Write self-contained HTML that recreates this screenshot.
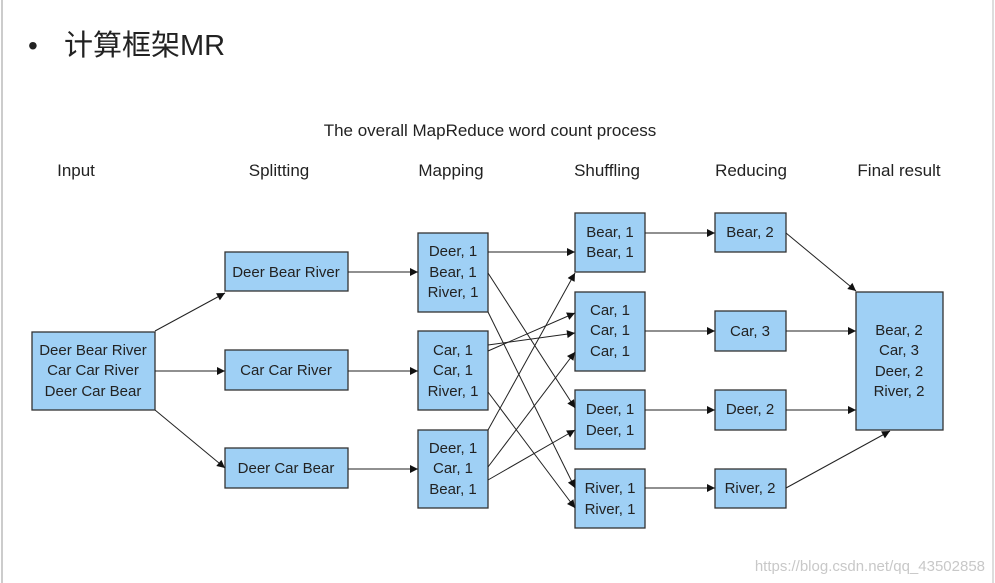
<!DOCTYPE html>
<html><head><meta charset="utf-8"><style>
html,body{margin:0;padding:0;background:#fff;}
svg{display:block;font-family:"Liberation Sans","DejaVu Sans",sans-serif;}
</style></head><body>
<svg width="995" height="583" viewBox="0 0 995 583" xmlns="http://www.w3.org/2000/svg">
<defs><marker id="a" viewBox="0 0 10 10" refX="10" refY="5" markerWidth="11" markerHeight="8" orient="auto" markerUnits="userSpaceOnUse"><path d="M0,0 L10,5 L0,10 z" fill="#111"/></marker></defs>
<rect x="0" y="0" width="995" height="583" fill="#fff"/>
<line x1="2" y1="0" x2="2" y2="583" stroke="#ccc" stroke-width="2"/>
<line x1="993" y1="0" x2="993" y2="583" stroke="#ddd" stroke-width="2"/>
<text x="28" y="55" font-size="28" fill="#222">•</text>
<text x="64" y="55" font-size="29" fill="#222" font-family="'Liberation Sans','Noto Sans CJK SC',sans-serif">计算框架MR</text>
<text x="490" y="136" font-size="17" fill="#222" text-anchor="middle">The overall MapReduce word count process</text>
<g font-size="17" fill="#222" text-anchor="middle">
<text x="76" y="176">Input</text><text x="279" y="176">Splitting</text><text x="451" y="176">Mapping</text>
<text x="607" y="176">Shuffling</text><text x="751" y="176">Reducing</text><text x="899" y="176">Final result</text>
</g>
<g fill="#9fd0f5" stroke="#333" stroke-width="1.3">
<rect x="32" y="332" width="123" height="78"/>
<rect x="225" y="252" width="123" height="39"/><rect x="225" y="350" width="123" height="40"/><rect x="225" y="448" width="123" height="40"/>
<rect x="418" y="233" width="70" height="79"/><rect x="418" y="331" width="70" height="79"/><rect x="418" y="430" width="70" height="78"/>
<rect x="575" y="213" width="70" height="59"/><rect x="575" y="292" width="70" height="79"/><rect x="575" y="390" width="70" height="59"/><rect x="575" y="469" width="70" height="59"/>
<rect x="715" y="213" width="71" height="39"/><rect x="715" y="311" width="71" height="40"/><rect x="715" y="390" width="71" height="40"/><rect x="715" y="469" width="71" height="39"/>
<rect x="856" y="292" width="87" height="138"/>
</g>
<g stroke="#222" stroke-width="1" fill="none" marker-end="url(#a)">
<line x1="155" y1="331" x2="225" y2="293"/><line x1="155" y1="371" x2="225" y2="371"/><line x1="155" y1="410" x2="225" y2="468"/>
<line x1="348" y1="272" x2="418" y2="272"/><line x1="348" y1="371" x2="418" y2="371"/><line x1="348" y1="469" x2="418" y2="469"/>
<line x1="488" y1="252" x2="575" y2="252"/>
<line x1="488" y1="273" x2="575" y2="408"/>
<line x1="488" y1="312" x2="575" y2="488"/>
<line x1="488" y1="351" x2="575" y2="313"/>
<line x1="488" y1="345" x2="575" y2="333"/>
<line x1="488" y1="392" x2="575" y2="508"/>
<line x1="488" y1="430" x2="575" y2="273"/>
<line x1="488" y1="467" x2="575" y2="352"/>
<line x1="488" y1="480" x2="575" y2="430"/>
<line x1="645" y1="233" x2="715" y2="233"/><line x1="645" y1="331" x2="715" y2="331"/><line x1="645" y1="410" x2="715" y2="410"/><line x1="645" y1="488" x2="715" y2="488"/>
<line x1="786" y1="233" x2="856" y2="291"/><line x1="786" y1="331" x2="856" y2="331"/><line x1="786" y1="410" x2="856" y2="410"/><line x1="786" y1="488" x2="890" y2="431"/>
</g>
<g font-size="15" fill="#222" text-anchor="middle">
<text x="93" y="355">Deer Bear River</text><text x="93" y="375">Car Car River</text><text x="93" y="396">Deer Car Bear</text>
<text x="286" y="277">Deer Bear River</text><text x="286" y="375">Car Car River</text><text x="286" y="473">Deer Car Bear</text>
<text x="453" y="256">Deer, 1</text><text x="453" y="277">Bear, 1</text><text x="453" y="297">River, 1</text>
<text x="453" y="355">Car, 1</text><text x="453" y="375">Car, 1</text><text x="453" y="396">River, 1</text>
<text x="453" y="453">Deer, 1</text><text x="453" y="473">Car, 1</text><text x="453" y="494">Bear, 1</text>
<text x="610" y="237">Bear, 1</text><text x="610" y="257">Bear, 1</text>
<text x="610" y="315">Car, 1</text><text x="610" y="335">Car, 1</text><text x="610" y="356">Car, 1</text>
<text x="610" y="414">Deer, 1</text><text x="610" y="435">Deer, 1</text>
<text x="610" y="493">River, 1</text><text x="610" y="514">River, 1</text>
<text x="750" y="237">Bear, 2</text><text x="750" y="336">Car, 3</text><text x="750" y="414">Deer, 2</text><text x="750" y="493">River, 2</text>
<text x="899" y="335">Bear, 2</text><text x="899" y="355">Car, 3</text><text x="899" y="376">Deer, 2</text><text x="899" y="396">River, 2</text>
</g>
<text x="985" y="571" font-size="15" fill="#c8c8c8" text-anchor="end">https://blog.csdn.net/qq_43502858</text>
</svg>
</body></html>
